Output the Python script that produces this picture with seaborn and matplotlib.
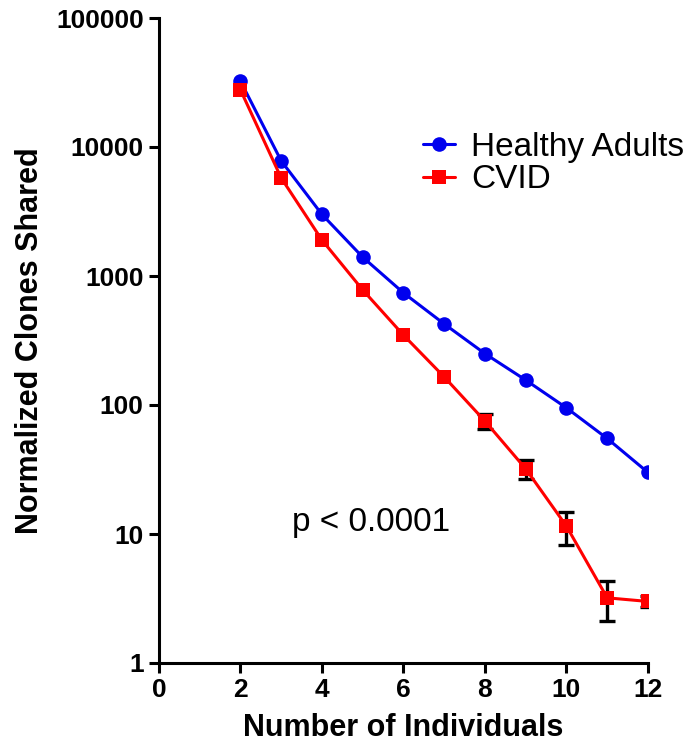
import numpy as np
import pandas as pd
import matplotlib
matplotlib.use("Agg")
import matplotlib.pyplot as plt
import seaborn as sns

# =========================
# DATA
# =========================
individuals = [2, 3, 4, 5, 6, 7, 8, 9, 10, 11, 12]
healthy = [32400, 7800, 3000, 1400, 740, 425, 250, 156, 95, 55, 30]
cvid = [27700, 5750, 1900, 780, 348, 165, 75, 32, 11.5, 3.2, 3.0]
cvid_err = [0, 0, 0, 0, 0, 0, 10, 5.5, 3.3, 1.1, 0.3]

y_ticks = [1, 10, 100, 1000, 10000, 100000]
x_ticks = [0, 2, 4, 6, 8, 10, 12]

df = pd.DataFrame({"n": individuals, "Healthy Adults": healthy, "CVID": cvid,
                   "err": cvid_err})
err_df = df[df["err"] > 0]

sns.set_style("ticks")
plt.rcParams["font.family"] = ["Liberation Sans", "DejaVu Sans"]
plt.rcParams["text.color"] = "black"
plt.rcParams["axes.labelcolor"] = "black"
plt.rcParams["xtick.color"] = "black"
plt.rcParams["ytick.color"] = "black"
plt.rcParams["axes.edgecolor"] = "black"

fig = plt.figure(figsize=(6.93, 7.5), dpi=100)
ax = fig.add_axes([0.2294, 0.116, 0.7056, 0.86])

# error bars under the markers
ax.errorbar(err_df["n"], err_df["CVID"], yerr=err_df["err"], fmt="none",
            ecolor="black", elinewidth=2.4, capsize=6, capthick=2.4, zorder=2)

sns.lineplot(data=df, x="n", y="Healthy Adults", color="#0000ee", marker="o",
             markersize=10.5, markeredgewidth=0, linewidth=2.2, ax=ax,
             label="Healthy Adults", zorder=3)
sns.lineplot(data=df, x="n", y="CVID", color="#ff0000", marker="s",
             markersize=10.5, markeredgewidth=0, linewidth=2.2, ax=ax,
             label="CVID", zorder=3)

ax.set_yscale("log")
ax.set_ylim(1, 100000)
ax.set_xlim(0, 12)
ax.set_yticks(y_ticks)
ax.set_yticklabels([str(t) for t in y_ticks])
ax.yaxis.set_minor_locator(matplotlib.ticker.NullLocator())
ax.set_xticks(x_ticks)
ax.set_xticklabels([str(t) for t in x_ticks])

for s in ["top", "right"]:
    ax.spines[s].set_visible(False)
for s in ["left", "bottom"]:
    ax.spines[s].set_linewidth(2.2)
ax.tick_params(axis="both", direction="out", length=7, width=2.2,
               labelsize=19, pad=4)
for lab in ax.get_xticklabels() + ax.get_yticklabels():
    lab.set_fontweight("bold")

ax.set_xlabel("Number of Individuals", fontsize=22, fontweight="bold", labelpad=8)
ax.set_ylabel("Normalized Clones Shared", fontsize=22, fontweight="bold", labelpad=8)

leg = ax.legend(loc="upper left", bbox_to_anchor=(0.54, 0.824), frameon=False,
                prop={"size": 24}, handlelength=0.95, handletextpad=0.5,
                labelspacing=0.05, borderaxespad=0, borderpad=0)

ax.text(3.26, 12.2, "p < 0.0001", fontsize=24, va="center", ha="left")

plt.savefig("out.png", dpi=100)
